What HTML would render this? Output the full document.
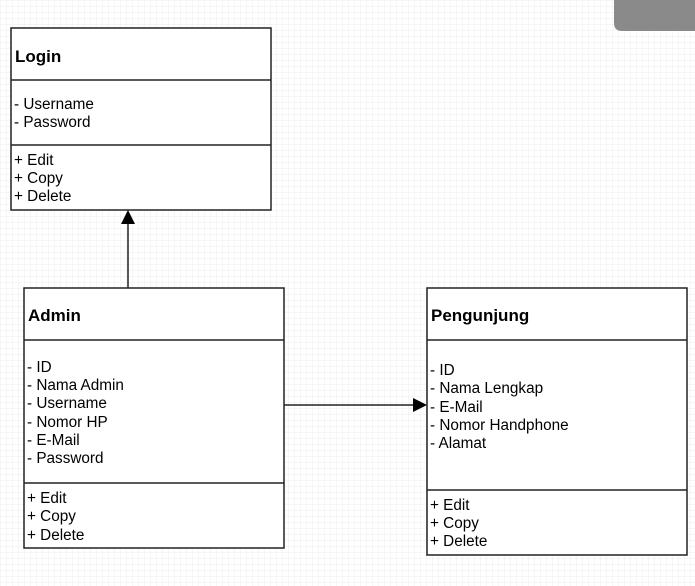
<!DOCTYPE html>
<html><head><meta charset="utf-8"><style>
html,body{margin:0;padding:0;width:695px;height:586px;overflow:hidden;background:#fff}
svg text{font-family:"Liberation Sans",sans-serif;font-size:15.3px;fill:#000}
</style></head><body>
<svg width="695" height="586" viewBox="0 0 695 586" xmlns="http://www.w3.org/2000/svg">
<defs><pattern id="g" width="6" height="6" patternUnits="userSpaceOnUse"><path d="M6 0H0V6" fill="none" stroke="#ececec" stroke-width="1"/></pattern></defs>
<rect width="695" height="586" fill="url(#g)"/>
<path d="M614 0H695V31H622Q614 31 614 23Z" fill="#8a8a8a"/>
<g fill="#fff" stroke="#222" stroke-width="1.5">
<rect x="11" y="28" width="260" height="182"/>
<rect x="24" y="288" width="260" height="260"/>
<rect x="427" y="288" width="260" height="267"/>
</g>
<g stroke="#222" stroke-width="1.5">
<line x1="11" y1="80" x2="271" y2="80"/><line x1="11" y1="145" x2="271" y2="145"/>
<line x1="24" y1="340" x2="284" y2="340"/><line x1="24" y1="483" x2="284" y2="483"/>
<line x1="427" y1="340" x2="687" y2="340"/><line x1="427" y1="490" x2="687" y2="490"/>
<line x1="128" y1="288" x2="128" y2="222"/>
<line x1="284" y1="405" x2="414" y2="405"/>
</g>
<polygon points="128,210 121,224 135,224" fill="#000"/>
<polygon points="427,405 413,398 413,412" fill="#000"/>
<text x="15" y="62" style="font-weight:bold;font-size:17px">Login</text>
<text x="14" y="109">- Username</text><text x="14" y="127">- Password</text>
<text x="14" y="165">+ Edit</text><text x="14" y="183">+ Copy</text><text x="14" y="201">+ Delete</text>
<text x="28" y="321" style="font-weight:bold;font-size:17px">Admin</text>
<text x="27" y="372">- ID</text><text x="27" y="390">- Nama Admin</text><text x="27" y="408">- Username</text><text x="27" y="427">- Nomor HP</text><text x="27" y="445">- E-Mail</text><text x="27" y="463">- Password</text>
<text x="27" y="503">+ Edit</text><text x="27" y="521">+ Copy</text><text x="27" y="540">+ Delete</text>
<text x="431" y="321" style="font-weight:bold;font-size:17px">Pengunjung</text>
<text x="430" y="375">- ID</text><text x="430" y="393">- Nama Lengkap</text><text x="430" y="412">- E-Mail</text><text x="430" y="430">- Nomor Handphone</text><text x="430" y="448">- Alamat</text>
<text x="430" y="510">+ Edit</text><text x="430" y="528">+ Copy</text><text x="430" y="546">+ Delete</text>
</svg>
</body></html>
